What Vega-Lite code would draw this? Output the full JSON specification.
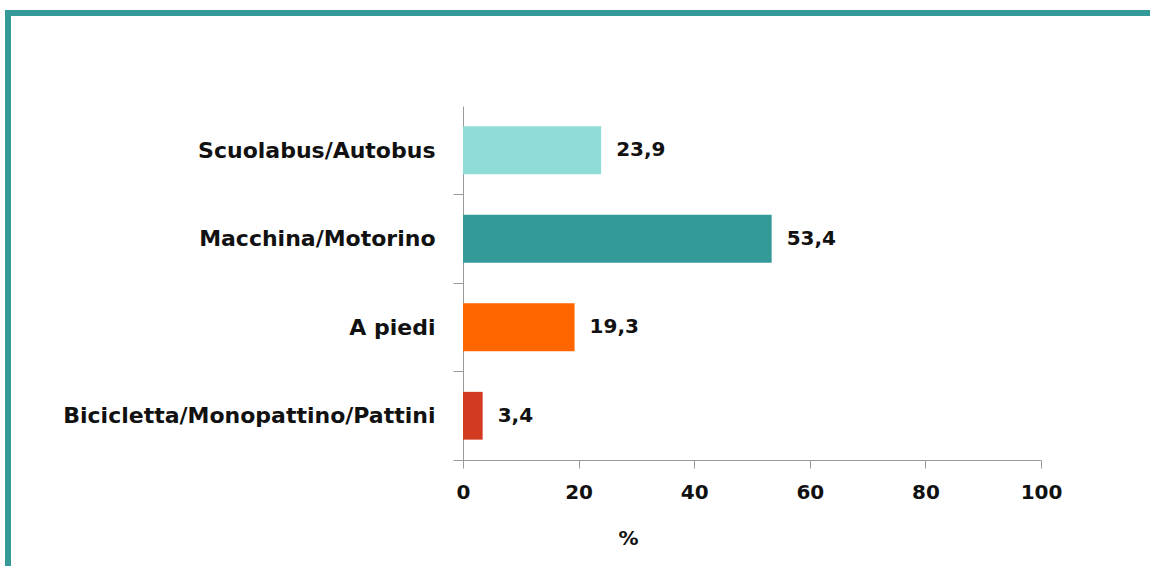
{
  "$schema": "https://vega.github.io/schema/vega-lite/v6.json",
  "autosize": {"type": "none"},
  "padding": {"left": 8, "top": 13, "right": 0, "bottom": 0},
  "width": 1142,
  "height": 553,
  "background": "white",
  "config": {
    "locale": {"number": {"decimal": ",", "thousands": ".", "grouping": [3], "currency": ["€", ""]}},
    "view": {"stroke": "#339A98", "strokeWidth": 6, "strokeDash": [1142, 1695, 553, 1000], "strokeCap": "square"},
    "font": "DejaVu Sans"
  },
  "data": {
    "values": [
      {"mezzo": "Scuolabus/Autobus", "valore": 23.9},
      {"mezzo": "Macchina/Motorino", "valore": 53.4},
      {"mezzo": "A piedi ", "valore": 19.3},
      {"mezzo": "Bicicletta/Monopattino/Pattini", "valore": 3.4}
    ]
  },
  "encoding": {
    "y": {
      "field": "mezzo",
      "type": "nominal",
      "sort": null,
      "scale": {"range": [93, 447], "paddingInner": 0.46, "paddingOuter": 0.23},
      "axis": {
        "title": null,
        "orient": "left",
        "offset": -455,
        "domainColor": "#9a9a9a",
        "tickColor": "#9a9a9a",
        "tickSize": 10,
        "tickOffset": 44,
        "labelOffset": -44,
        "labelPadding": 18,
        "labelFont": "DejaVu Sans",
        "labelFontSize": 22,
        "labelFontWeight": "bold",
        "labelColor": "#111111",
        "labelLimit": 500
      }
    },
    "x": {
      "field": "valore",
      "type": "quantitative",
      "scale": {"domain": [0, 100], "range": [455, 1033], "nice": false},
      "axis": {
        "orient": "bottom",
        "offset": -106,
        "values": [0, 20, 40, 60, 80, 100],
        "grid": false,
        "title": "%",
        "titleX": 620,
        "titleY": 84,
        "titleAlign": "center",
        "titleBaseline": "alphabetic",
        "titleFont": "DejaVu Sans",
        "titleFontSize": 20,
        "titleFontWeight": "bold",
        "titleColor": "#111111",
        "domainColor": "#9a9a9a",
        "tickColor": "#9a9a9a",
        "tickSize": 8,
        "labelPadding": 14,
        "labelFont": "DejaVu Sans",
        "labelFontSize": 20,
        "labelFontWeight": "bold",
        "labelColor": "#111111",
        "labelFlush": false
      }
    }
  },
  "layer": [
    {
      "mark": {"type": "bar"},
      "encoding": {
        "color": {
          "field": "mezzo",
          "type": "nominal",
          "sort": null,
          "scale": {
            "domain": ["Scuolabus/Autobus", "Macchina/Motorino", "A piedi ", "Bicicletta/Monopattino/Pattini"],
            "range": ["#90DCD9", "#339A98", "#FF6600", "#D23B1F"]
          },
          "legend": null
        }
      }
    },
    {
      "mark": {"type": "text", "align": "left", "baseline": "middle", "dx": 15, "font": "DejaVu Sans", "fontSize": 20, "fontWeight": "bold", "color": "#111111"},
      "encoding": {
        "text": {"field": "valore", "type": "quantitative", "format": ".1f"}
      }
    }
  ]
}
